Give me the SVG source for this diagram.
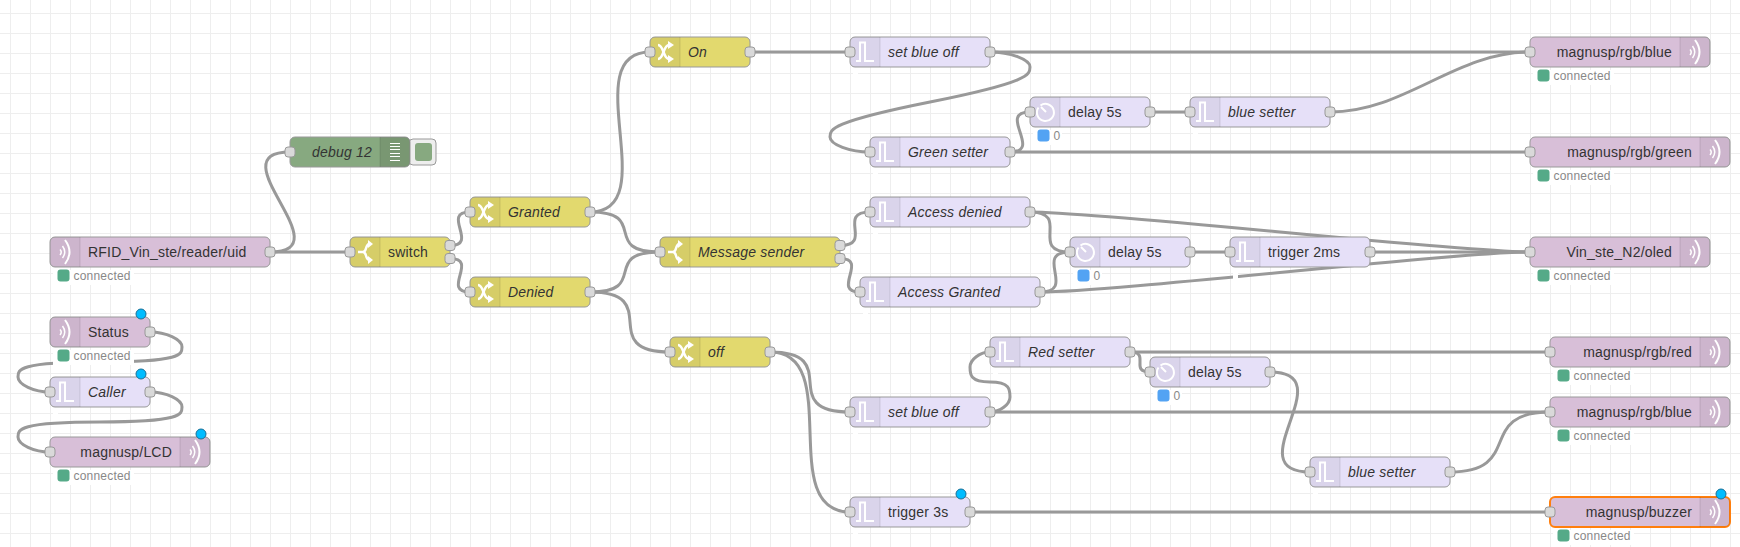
<svg xmlns="http://www.w3.org/2000/svg" width="1740" height="547" viewBox="0 0 1740 547">
<style>
.b{stroke:#999;stroke-width:1}
.mq{fill:#d8bfd8}.fn{fill:#e2d96e}.tg{fill:#e6e0f8}.db{fill:#87a980}
.sel{stroke:#ff7f0e;stroke-width:2}
.sh{fill:#000;fill-opacity:.05}
.sep{stroke:#000;stroke-opacity:.1;stroke-width:1;fill:none}
.t{font:14px "Liberation Sans",Arial,sans-serif;fill:#333;letter-spacing:.2px}
.i{font-style:italic}
.e{text-anchor:end}
.p{fill:#d9d9d9;stroke:#999;stroke-width:1}
.w path{fill:none;stroke:#999;stroke-width:3}
.ic{fill:none;stroke:#fff;stroke-width:2}
.ib{fill:none;stroke:#fff;stroke-width:2.500}
.in{fill:none;stroke:#fff;stroke-width:1.500}
.ia{fill:#fff;stroke:none}
.sb{fill:#fff}
.st{font:12px "Liberation Sans",Arial,sans-serif;fill:#888;letter-spacing:.2px}
.g{fill:#5a8}.bl{fill:#53a3f3}
.ch{fill:#00bcff;stroke:#1a6f96;stroke-width:1}
</style>
<defs>
<pattern id="grid" width="20" height="20" patternUnits="userSpaceOnUse">
<rect x="10" y="0" width="1" height="20" fill="#eee"/>
<rect x="0" y="13" width="20" height="1" fill="#eee"/>
</pattern>
<path id="shL" class="sh" d="M5 0H30V30H5A5 5 0 0 1 0 25V5A5 5 0 0 1 5 0Z"/>
<path id="shR" class="sh" d="M0 0H25A5 5 0 0 1 30 5V25A5 5 0 0 1 25 30H0Z"/>
<g id="mqI">
<path class="ic" d="M15 3Q24 15 15 27"/>
<path class="in" d="M12.500 9Q17 15 12.500 21"/>
<path class="in" d="M10 12.500Q12.500 15 10 18"/>
</g>
<path id="tgI" class="ic" d="M6 24H10V5.500H15V24H24"/>
<g id="dlI">
<path class="ic" d="M10.500 8.500A8.500 8.500 0 1 1 8.500 10.500"/>
<path class="ic" d="M11 10L16 15"/>
</g>
<g id="swI">
<path class="ib" d="M8 15H13C17 15 15 8 19 7"/>
<path class="ib" d="M13 15C17 15 15 22 19 23"/>
<path class="ia" d="M18 3L23 7L18 11ZM18 19L23 23L18 27Z"/>
</g>
<g id="chI">
<path class="ib" d="M8 8C14 8 13 22 19 22"/>
<path class="ib" d="M8 22C14 22 13 8 19 8"/>
<path class="ia" d="M18 4L24 8L18 12ZM18 18L24 22L18 26Z"/>
</g>
</defs>
<rect width="1740" height="547" fill="#fff"/>
<rect width="1740" height="547" fill="url(#grid)"/>

<g id="connectors" class="w">
<path d="M270 252H350"/>
<path d="M270 252C345 252 215 152 290 152"/>
<path d="M150 332C166 332 182 339.500 182 347S182 362 100 362S18 369.500 18 377S34 392 50 392"/>
<path d="M150 392C166 392 182 399.500 182 407S182 422 100 422S18 429.500 18 437S34 452 50 452"/>
<path d="M450 245.500C479.300 245.500 440.700 212 470 212"/>
<path d="M450 258.500C479.400 258.500 440.600 292 470 292"/>
<path d="M590 212C665 212 575 52 650 52"/>
<path d="M590 212C650.500 212 599.500 252 660 252"/>
<path d="M590 292C650.500 292 599.500 252 660 252"/>
<path d="M590 292C665 292 595 352 670 352"/>
<path d="M750 52H850"/>
<path d="M990 52H1530"/>
<path d="M990 52C1010 52 1030 59.500 1030 67S1030 82 930 102S830 129.500 830 137S850 152 870 152"/>
<path d="M1010 152C1043.500 152 996.500 112 1030 112"/>
<path d="M1010 152H1530"/>
<path d="M1150 112H1190"/>
<path d="M1330 112C1405 112 1455 52 1530 52"/>
<path d="M840 245.500C873.800 245.500 836.200 212 870 212"/>
<path d="M840 258.500C869.300 258.500 830.700 292 860 292"/>
<path d="M1030 212C1072.400 212 1027.600 252 1070 252"/>
<path d="M1030 212C1105 212 1455 252 1530 252"/>
<path d="M1040 292C1077.500 292 1032.500 252 1070 252"/>
<path d="M1040 292C1115 292 1455 252 1530 252"/>
<path d="M1190 252H1230"/>
<path d="M1370 252H1530"/>
<path d="M770 352C845 352 775 412 850 412"/>
<path d="M770 352C845 352 775 512 850 512"/>
<path d="M990 412C1000 412 1010 404.500 1010 397S1010 382 990 382S970 374.500 970 367S980 352 990 352"/>
<path d="M990 412H1550"/>
<path d="M1130 352H1550"/>
<path d="M1130 352C1151.200 352 1128.800 372 1150 372"/>
<path d="M1270 372C1345 372 1235 472 1310 472"/>
<path d="M1450 472C1525 472 1475 412 1550 412"/>
<path d="M970 512H1550"/>
</g>

<g id="n-rfid" transform="translate(50 237)">
<rect class="sb" x="3" y="33" width="81" height="15"/>
<rect class="b mq" width="220" height="30" rx="5"/><use href="#shL"/><path class="sep" d="M30 0V30"/><use href="#mqI"/>
<text class="t" x="38" y="20">RFID_Vin_ste/reader/uid</text>
<rect class="g" x="7.500" y="32.500" width="12" height="12" rx="3"/><text class="st" x="23.500" y="43">connected</text>
<rect class="p" x="215" y="10" width="10" height="10" rx="3"/>
</g>
<g id="n-debug" transform="translate(290 137)">
<rect x="119" y="2" width="27" height="26" rx="4" fill="#eee" stroke="#999"/>
<rect class="db" x="125" y="6" width="17" height="18" rx="3"/>
<rect class="b db" width="120" height="30" rx="5"/><use href="#shR" x="90"/><use href="#shR" x="90"/><path class="sep" d="M90 0V30"/>
<path d="M100 6.500H110M100 9.500H110M100 12.500H110M100 16.500H110M100 19.500H110M100 23.500H110" stroke="#fff" fill="none"/>
<text class="t i e" x="82" y="20">debug 12</text>
<rect class="p" x="-5" y="10" width="10" height="10" rx="3"/>
</g>
<g id="n-switch" transform="translate(350 237)">
<rect class="b fn" width="100" height="30" rx="5"/><use href="#shL"/><path class="sep" d="M30 0V30"/><use href="#swI"/>
<text class="t" x="38" y="20">switch</text>
<rect class="p" x="-5" y="10" width="10" height="10" rx="3"/>
<rect class="p" x="95" y="3.500" width="10" height="10" rx="3"/>
<rect class="p" x="95" y="16.500" width="10" height="10" rx="3"/>
</g>
<g id="n-granted" transform="translate(470 197)">
<rect class="b fn" width="120" height="30" rx="5"/><use href="#shL"/><path class="sep" d="M30 0V30"/><use href="#chI"/>
<text class="t i" x="38" y="20">Granted</text>
<rect class="p" x="-5" y="10" width="10" height="10" rx="3"/>
<rect class="p" x="115" y="10" width="10" height="10" rx="3"/>
</g>
<g id="n-denied" transform="translate(470 277)">
<rect class="b fn" width="120" height="30" rx="5"/><use href="#shL"/><path class="sep" d="M30 0V30"/><use href="#chI"/>
<text class="t i" x="38" y="20">Denied</text>
<rect class="p" x="-5" y="10" width="10" height="10" rx="3"/>
<rect class="p" x="115" y="10" width="10" height="10" rx="3"/>
</g>
<g id="n-message" transform="translate(660 237)">
<rect class="b fn" width="180" height="30" rx="5"/><use href="#shL"/><path class="sep" d="M30 0V30"/><use href="#swI"/>
<text class="t i" x="38" y="20">Message sender</text>
<rect class="p" x="-5" y="10" width="10" height="10" rx="3"/>
<rect class="p" x="175" y="3.500" width="10" height="10" rx="3"/>
<rect class="p" x="175" y="16.500" width="10" height="10" rx="3"/>
</g>
<g id="n-on" transform="translate(650 37)">
<rect class="b fn" width="100" height="30" rx="5"/><use href="#shL"/><path class="sep" d="M30 0V30"/><use href="#chI"/>
<text class="t i" x="38" y="20">On</text>
<rect class="p" x="-5" y="10" width="10" height="10" rx="3"/>
<rect class="p" x="95" y="10" width="10" height="10" rx="3"/>
</g>
<g id="n-off" transform="translate(670 337)">
<rect class="b fn" width="100" height="30" rx="5"/><use href="#shL"/><path class="sep" d="M30 0V30"/><use href="#chI"/>
<text class="t i" x="38" y="20">off</text>
<rect class="p" x="-5" y="10" width="10" height="10" rx="3"/>
<rect class="p" x="95" y="10" width="10" height="10" rx="3"/>
</g>
<g id="n-setblue1" transform="translate(850 37)">
<rect class="sb" x="3" y="33" width="5" height="9"/>
<rect class="b tg" width="140" height="30" rx="5"/><use href="#shL"/><path class="sep" d="M30 0V30"/><use href="#tgI"/>
<text class="t i" x="38" y="20">set blue off</text>
<rect class="p" x="-5" y="10" width="10" height="10" rx="3"/>
<rect class="p" x="135" y="10" width="10" height="10" rx="3"/>
</g>
<g id="n-green" transform="translate(870 137)">
<rect class="sb" x="3" y="33" width="5" height="9"/>
<rect class="b tg" width="140" height="30" rx="5"/><use href="#shL"/><path class="sep" d="M30 0V30"/><use href="#tgI"/>
<text class="t i" x="38" y="20">Green setter</text>
<rect class="p" x="-5" y="10" width="10" height="10" rx="3"/>
<rect class="p" x="135" y="10" width="10" height="10" rx="3"/>
</g>
<g id="n-delay1" transform="translate(1030 97)">
<rect class="sb" x="3" y="33" width="29" height="15"/>
<rect class="b tg" width="120" height="30" rx="5"/><use href="#shL"/><path class="sep" d="M30 0V30"/><use href="#dlI"/>
<text class="t" x="38" y="20">delay 5s</text>
<rect class="bl" x="7.500" y="32.500" width="12" height="12" rx="3"/><text class="st" x="23.500" y="43">0</text>
<rect class="p" x="-5" y="10" width="10" height="10" rx="3"/>
<rect class="p" x="115" y="10" width="10" height="10" rx="3"/>
</g>
<g id="n-bluesetter1" transform="translate(1190 97)">
<rect class="sb" x="3" y="33" width="5" height="9"/>
<rect class="b tg" width="140" height="30" rx="5"/><use href="#shL"/><path class="sep" d="M30 0V30"/><use href="#tgI"/>
<text class="t i" x="38" y="20">blue setter</text>
<rect class="p" x="-5" y="10" width="10" height="10" rx="3"/>
<rect class="p" x="135" y="10" width="10" height="10" rx="3"/>
</g>
<g id="n-rgbblue1" transform="translate(1530 37)">
<rect class="sb" x="3" y="33" width="81" height="15"/>
<rect class="b mq" width="180" height="30" rx="5"/><use href="#shR" x="150"/><path class="sep" d="M150 0V30"/><use href="#mqI" x="150"/>
<text class="t e" x="142" y="20">magnusp/rgb/blue</text>
<rect class="g" x="7.500" y="32.500" width="12" height="12" rx="3"/><text class="st" x="23.500" y="43">connected</text>
<rect class="p" x="-5" y="10" width="10" height="10" rx="3"/>
</g>
<g id="n-rgbgreen" transform="translate(1530 137)">
<rect class="sb" x="3" y="33" width="81" height="15"/>
<rect class="b mq" width="200" height="30" rx="5"/><use href="#shR" x="170"/><path class="sep" d="M170 0V30"/><use href="#mqI" x="170"/>
<text class="t e" x="162" y="20">magnusp/rgb/green</text>
<rect class="g" x="7.500" y="32.500" width="12" height="12" rx="3"/><text class="st" x="23.500" y="43">connected</text>
<rect class="p" x="-5" y="10" width="10" height="10" rx="3"/>
</g>
<g id="n-accessdenied" transform="translate(870 197)">
<rect class="sb" x="3" y="33" width="5" height="9"/>
<rect class="b tg" width="160" height="30" rx="5"/><use href="#shL"/><path class="sep" d="M30 0V30"/><use href="#tgI"/>
<text class="t i" x="38" y="20">Access denied</text>
<rect class="p" x="-5" y="10" width="10" height="10" rx="3"/>
<rect class="p" x="155" y="10" width="10" height="10" rx="3"/>
</g>
<g id="n-accessgranted" transform="translate(860 277)">
<rect class="sb" x="3" y="33" width="5" height="9"/>
<rect class="b tg" width="180" height="30" rx="5"/><use href="#shL"/><path class="sep" d="M30 0V30"/><use href="#tgI"/>
<text class="t i" x="38" y="20">Access Granted</text>
<rect class="p" x="-5" y="10" width="10" height="10" rx="3"/>
<rect class="p" x="175" y="10" width="10" height="10" rx="3"/>
</g>
<g id="n-delay2" transform="translate(1070 237)">
<rect class="sb" x="3" y="33" width="29" height="15"/>
<rect class="b tg" width="120" height="30" rx="5"/><use href="#shL"/><path class="sep" d="M30 0V30"/><use href="#dlI"/>
<text class="t" x="38" y="20">delay 5s</text>
<rect class="bl" x="7.500" y="32.500" width="12" height="12" rx="3"/><text class="st" x="23.500" y="43">0</text>
<rect class="p" x="-5" y="10" width="10" height="10" rx="3"/>
<rect class="p" x="115" y="10" width="10" height="10" rx="3"/>
</g>
<g id="n-trigger2ms" transform="translate(1230 237)">
<rect class="sb" x="3" y="33" width="5" height="9"/>
<rect class="b tg" width="140" height="30" rx="5"/><use href="#shL"/><path class="sep" d="M30 0V30"/><use href="#tgI"/>
<text class="t" x="38" y="20">trigger 2ms</text>
<rect class="p" x="-5" y="10" width="10" height="10" rx="3"/>
<rect class="p" x="135" y="10" width="10" height="10" rx="3"/>
</g>
<g id="n-oled" transform="translate(1530 237)">
<rect class="sb" x="3" y="33" width="81" height="15"/>
<rect class="b mq" width="180" height="30" rx="5"/><use href="#shR" x="150"/><path class="sep" d="M150 0V30"/><use href="#mqI" x="150"/>
<text class="t e" x="142" y="20">Vin_ste_N2/oled</text>
<rect class="g" x="7.500" y="32.500" width="12" height="12" rx="3"/><text class="st" x="23.500" y="43">connected</text>
<rect class="p" x="-5" y="10" width="10" height="10" rx="3"/>
</g>
<g id="n-red" transform="translate(990 337)">
<rect class="sb" x="3" y="33" width="5" height="9"/>
<rect class="b tg" width="140" height="30" rx="5"/><use href="#shL"/><path class="sep" d="M30 0V30"/><use href="#tgI"/>
<text class="t i" x="38" y="20">Red setter</text>
<rect class="p" x="-5" y="10" width="10" height="10" rx="3"/>
<rect class="p" x="135" y="10" width="10" height="10" rx="3"/>
</g>
<g id="n-delay3" transform="translate(1150 357)">
<rect class="sb" x="3" y="33" width="29" height="15"/>
<rect class="b tg" width="120" height="30" rx="5"/><use href="#shL"/><path class="sep" d="M30 0V30"/><use href="#dlI"/>
<text class="t" x="38" y="20">delay 5s</text>
<rect class="bl" x="7.500" y="32.500" width="12" height="12" rx="3"/><text class="st" x="23.500" y="43">0</text>
<rect class="p" x="-5" y="10" width="10" height="10" rx="3"/>
<rect class="p" x="115" y="10" width="10" height="10" rx="3"/>
</g>
<g id="n-setblue2" transform="translate(850 397)">
<rect class="sb" x="3" y="33" width="5" height="9"/>
<rect class="b tg" width="140" height="30" rx="5"/><use href="#shL"/><path class="sep" d="M30 0V30"/><use href="#tgI"/>
<text class="t i" x="38" y="20">set blue off</text>
<rect class="p" x="-5" y="10" width="10" height="10" rx="3"/>
<rect class="p" x="135" y="10" width="10" height="10" rx="3"/>
</g>
<g id="n-trigger3s" transform="translate(850 497)">
<rect class="sb" x="3" y="33" width="5" height="9"/>
<rect class="b tg" width="120" height="30" rx="5"/><use href="#shL"/><path class="sep" d="M30 0V30"/><use href="#tgI"/>
<text class="t" x="38" y="20">trigger 3s</text>
<rect class="p" x="-5" y="10" width="10" height="10" rx="3"/>
<rect class="p" x="115" y="10" width="10" height="10" rx="3"/>
<circle class="ch" cx="111" cy="-3" r="5"/>
</g>
<g id="n-rgbred" transform="translate(1550 337)">
<rect class="sb" x="3" y="33" width="81" height="15"/>
<rect class="b mq" width="180" height="30" rx="5"/><use href="#shR" x="150"/><path class="sep" d="M150 0V30"/><use href="#mqI" x="150"/>
<text class="t e" x="142" y="20">magnusp/rgb/red</text>
<rect class="g" x="7.500" y="32.500" width="12" height="12" rx="3"/><text class="st" x="23.500" y="43">connected</text>
<rect class="p" x="-5" y="10" width="10" height="10" rx="3"/>
</g>
<g id="n-rgbblue2" transform="translate(1550 397)">
<rect class="sb" x="3" y="33" width="81" height="15"/>
<rect class="b mq" width="180" height="30" rx="5"/><use href="#shR" x="150"/><path class="sep" d="M150 0V30"/><use href="#mqI" x="150"/>
<text class="t e" x="142" y="20">magnusp/rgb/blue</text>
<rect class="g" x="7.500" y="32.500" width="12" height="12" rx="3"/><text class="st" x="23.500" y="43">connected</text>
<rect class="p" x="-5" y="10" width="10" height="10" rx="3"/>
</g>
<g id="n-bluesetter2" transform="translate(1310 457)">
<rect class="sb" x="3" y="33" width="5" height="9"/>
<rect class="b tg" width="140" height="30" rx="5"/><use href="#shL"/><path class="sep" d="M30 0V30"/><use href="#tgI"/>
<text class="t i" x="38" y="20">blue setter</text>
<rect class="p" x="-5" y="10" width="10" height="10" rx="3"/>
<rect class="p" x="135" y="10" width="10" height="10" rx="3"/>
</g>
<g id="n-buzzer" transform="translate(1550 497)">
<rect class="sb" x="3" y="33" width="81" height="15"/>
<rect class="mq sel" width="180" height="30" rx="5"/><use href="#shR" x="150"/><path class="sep" d="M150 0V30"/><use href="#mqI" x="150"/>
<text class="t e" x="142" y="20">magnusp/buzzer</text>
<rect class="g" x="7.500" y="32.500" width="12" height="12" rx="3"/><text class="st" x="23.500" y="43">connected</text>
<rect class="p" x="-5" y="10" width="10" height="10" rx="3"/>
<circle class="ch" cx="171" cy="-3" r="5"/>
</g>
<g id="n-status" transform="translate(50 317)">
<rect class="sb" x="3" y="33" width="81" height="15"/>
<rect class="b mq" width="100" height="30" rx="5"/><use href="#shL"/><path class="sep" d="M30 0V30"/><use href="#mqI"/>
<text class="t" x="38" y="20">Status</text>
<rect class="g" x="7.500" y="32.500" width="12" height="12" rx="3"/><text class="st" x="23.500" y="43">connected</text>
<rect class="p" x="95" y="10" width="10" height="10" rx="3"/>
<circle class="ch" cx="91" cy="-3" r="5"/>
</g>
<g id="n-caller" transform="translate(50 377)">
<rect class="sb" x="3" y="33" width="5" height="9"/>
<rect class="b tg" width="100" height="30" rx="5"/><use href="#shL"/><path class="sep" d="M30 0V30"/><use href="#tgI"/>
<text class="t i" x="38" y="20">Caller</text>
<rect class="p" x="-5" y="10" width="10" height="10" rx="3"/>
<rect class="p" x="95" y="10" width="10" height="10" rx="3"/>
<circle class="ch" cx="91" cy="-3" r="5"/>
</g>
<g id="n-lcd" transform="translate(50 437)">
<rect class="sb" x="3" y="33" width="81" height="15"/>
<rect class="b mq" width="160" height="30" rx="5"/><use href="#shR" x="130"/><path class="sep" d="M130 0V30"/><use href="#mqI" x="130"/>
<text class="t e" x="122" y="20">magnusp/LCD</text>
<rect class="g" x="7.500" y="32.500" width="12" height="12" rx="3"/><text class="st" x="23.500" y="43">connected</text>
<rect class="p" x="-5" y="10" width="10" height="10" rx="3"/>
<circle class="ch" cx="151" cy="-3" r="5"/>
</g>
</svg>
